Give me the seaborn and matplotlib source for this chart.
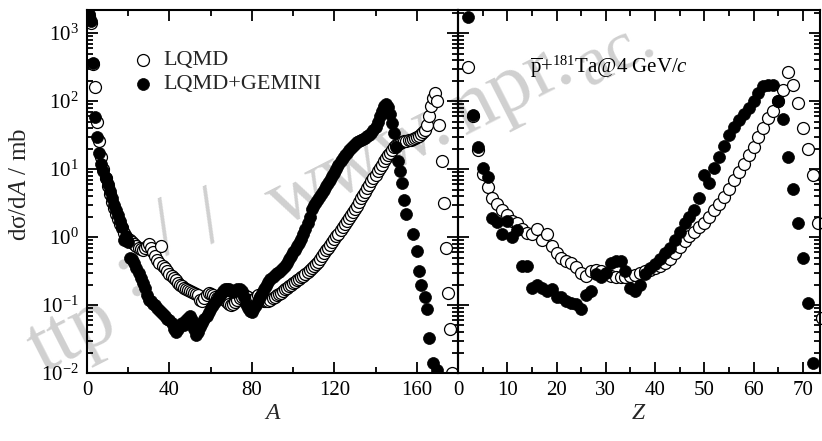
import numpy as np
import pandas as pd
import matplotlib
matplotlib.use("Agg")
import matplotlib.pyplot as plt
import seaborn as sns
from matplotlib.ticker import LogLocator, MultipleLocator, NullFormatter, LogFormatterMathtext

# ---------------- data ----------------
# Left panel: mass distribution, A = 1..177
A_lqmd = list(range(1, 178))
dA_lqmd = [
    1800, 1400, 350, 160, 50, 26, 15, 10, 7.5, 5.6,
    4.3, 3.3, 2.7, 2.2, 1.85, 1.55, 1.35, 1.15, 1.0, 0.95,
    0.92, 0.86, 0.8, 0.74, 0.7, 0.66, 0.65, 0.7, 0.75, 0.78,
    0.7, 0.6, 0.52, 0.46, 0.42, 0.75, 0.38, 0.35, 0.32, 0.29,
    0.27, 0.25, 0.23, 0.21, 0.2, 0.19, 0.18, 0.17, 0.165, 0.16,
    0.155, 0.15, 0.145, 0.14, 0.12, 0.115, 0.125, 0.14, 0.15, 0.145,
    0.14, 0.13, 0.125, 0.13, 0.14, 0.13, 0.12, 0.11, 0.105, 0.1,
    0.105, 0.11, 0.12, 0.125, 0.13, 0.14, 0.135, 0.13, 0.12, 0.115,
    0.12, 0.13, 0.14, 0.13, 0.12, 0.115, 0.115, 0.115, 0.12, 0.125,
    0.13, 0.14, 0.145, 0.15, 0.16, 0.17, 0.18, 0.19, 0.2, 0.21,
    0.22, 0.23, 0.24, 0.26, 0.27, 0.29, 0.31, 0.33, 0.35, 0.37,
    0.4, 0.43, 0.47, 0.52, 0.58, 0.64, 0.7, 0.77, 0.85, 0.93,
    1.02, 1.12, 1.25, 1.4, 1.55, 1.72, 1.9, 2.1, 2.35, 2.6,
    2.9, 3.3, 3.7, 4.1, 4.6, 5.2, 5.9, 6.6, 7.4, 8.3,
    9.3, 10.4, 11.6, 13, 14.5, 16, 17.5, 19, 21, 22.5,
    23.5, 24.5, 25, 25.5, 26, 26.5, 27, 28, 29, 30,
    31, 33, 35, 38, 45, 60, 85, 110, 130, 100,
    44, 13, 3.2, 0.7, 0.15, 0.045, 0.01,
]

A_gem = list(range(1, 151)) + [151, 152, 153, 154, 155, 158, 160, 161, 162, 164, 165, 166, 168, 170]
dA_gem = [
    1900, 1500, 360, 58, 30, 17, 12, 9.5, 7.5, 6.0,
    4.8, 3.8, 3.0, 2.5, 2.1, 1.7, 1.4, 0.9, 1.05, 0.85,
    0.5, 0.47, 0.42, 0.35, 0.3, 0.25, 0.21, 0.18, 0.14, 0.12,
    0.115, 0.105, 0.1, 0.09, 0.085, 0.08, 0.075, 0.068, 0.063, 0.06,
    0.055, 0.045, 0.04, 0.045, 0.05, 0.055, 0.05, 0.06, 0.065, 0.068,
    0.06, 0.045, 0.036, 0.04, 0.048, 0.055, 0.062, 0.07, 0.08, 0.09,
    0.1, 0.11, 0.12, 0.13, 0.145, 0.16, 0.17, 0.175, 0.17, 0.16,
    0.155, 0.16, 0.17, 0.175, 0.16, 0.13, 0.105, 0.09, 0.082, 0.08,
    0.09, 0.1, 0.115, 0.13, 0.15, 0.17, 0.19, 0.22, 0.24, 0.26,
    0.28, 0.3, 0.31, 0.33, 0.35, 0.38, 0.42, 0.47, 0.53, 0.6,
    0.65, 0.73, 0.82, 0.95, 1.1, 1.3, 1.6, 2.0, 2.6, 3.0,
    3.3, 3.6, 4.0, 4.5, 5.0, 5.6, 6.2, 7.0, 7.8, 8.8,
    10, 11.5, 13, 14.5, 16, 17.5, 19, 20.5, 22, 23.5,
    25, 26, 27, 28, 29, 30.5, 32, 34, 37, 42,
    50, 60, 72, 85, 90, 82, 65, 47, 34, 21,
    13, 9.5, 6.2, 3.5, 2.2, 1.1, 0.63, 0.32, 0.2, 0.13, 0.087, 0.033, 0.014, 0.011,
]

# Right panel: charge distribution
Z_lqmd = list(range(2, 75))
dZ_lqmd = [
    315, 60, 19, 8.5, 5.4, 3.8, 3.1, 2.5,
    2.1, 1.7, 1.6, 1.3, 1.15, 1.1, 1.33, 0.89, 1.1, 0.74,
    0.59, 0.5, 0.45, 0.41, 0.36, 0.3, 0.27, 0.32, 0.33, 0.32,
    0.29, 0.27, 0.26, 0.26, 0.26, 0.27, 0.28, 0.3, 0.32, 0.33,
    0.35, 0.38, 0.42, 0.48, 0.58, 0.72, 0.88, 1.05, 1.2, 1.4,
    1.6, 2.0, 2.5, 3.1, 3.9, 5.1, 6.8, 9, 12, 16,
    21, 30, 40, 56, 72, 100, 145, 265, 170, 93,
    40, 20, 8.1, 1.6, 0.065,
]

Z_gem = list(range(2, 73))
dZ_gem = [
    1700, 62, 21, 10.5, 7.6, 1.9, 1.65, 1.1,
    1.75, 1.0, 1.25, 0.38, 0.38, 0.18, 0.2, 0.18, 0.16, 0.17,
    0.13, 0.13, 0.115, 0.108, 0.104, 0.087, 0.14, 0.16, 0.29, 0.26,
    0.3, 0.41, 0.45, 0.45, 0.32, 0.18, 0.16, 0.2, 0.29, 0.35,
    0.4, 0.48, 0.58, 0.7, 0.9, 1.2, 1.6, 2.0, 2.5, 3.8,
    8.1, 6.3, 10.5, 15, 22, 32, 42, 52, 65, 80,
    100, 130, 165, 175, 170, 100, 55, 15, 5.1, 1.6,
    0.5, 0.107, 0.014,
]

labels = ["LQMD", "LQMD+GEMINI"]
annot = r"$\overline{\mathrm{p}}$+$^{181}$Ta@4 GeV/$c$"
# watermark pieces of "http://www.npr.ac.cn" that show in the picture
wm_text = ["ttp", ":", "/", "/", "www.", "npr.", "ac."]
wm_pos = [(72, 335), (129, 274), (167, 232), (212, 220), (360, 165), (512, 88), (616, 54)]
wm_size = [60, 60, 60, 60, 60, 60, 50]

# ---------------- style ----------------
sns.set_theme(style="ticks")
plt.rcParams["font.family"] = ["Liberation Serif", "DejaVu Serif"]
plt.rcParams["mathtext.fontset"] = "custom"
plt.rcParams["mathtext.rm"] = "Liberation Serif"
plt.rcParams["mathtext.it"] = "Liberation Serif:italic"
plt.rcParams["mathtext.bf"] = "Liberation Serif:bold"
plt.rcParams["axes.unicode_minus"] = True

W, H = 822, 441
fig = plt.figure(figsize=(W / 100, H / 100), dpi=100)
fig.patch.set_facecolor("white")
x0, xm, x1 = 87, 458, 820
ytop, ybot = 10, 373
axL = fig.add_axes([x0 / W, 1 - ybot / H, (xm - x0) / W, (ybot - ytop) / H])
axR = fig.add_axes([xm / W, 1 - ybot / H, (x1 - xm) / W, (ybot - ytop) / H])

# watermark (light grey, behind everything)
for t, (px, py), fs in zip(wm_text, wm_pos, wm_size):
    fig.text(px / W, 1 - py / H, t, rotation=27, fontsize=fs,
             color="#d0d0d0", zorder=-5, rotation_mode="anchor",
             ha="center", va="center")

dfL_o = pd.DataFrame({"A": A_lqmd, "v": dA_lqmd})
dfL_f = pd.DataFrame({"A": A_gem, "v": dA_gem})
dfR_o = pd.DataFrame({"Z": Z_lqmd, "v": dZ_lqmd})
dfR_f = pd.DataFrame({"Z": Z_gem, "v": dZ_gem})

ms = 74
sns.scatterplot(data=dfL_o, x="A", y="v", ax=axL, marker="o", s=ms,
                facecolor="white", edgecolor="black", linewidth=0.9, label=labels[0])
sns.scatterplot(data=dfL_f, x="A", y="v", ax=axL, marker="o", s=ms,
                color="black", edgecolor="black", linewidth=0.5, label=labels[1])
sns.scatterplot(data=dfR_o, x="Z", y="v", ax=axR, marker="o", s=ms,
                facecolor="white", edgecolor="black", linewidth=0.9, clip_on=False)
sns.scatterplot(data=dfR_f, x="Z", y="v", ax=axR, marker="o", s=ms,
                color="black", edgecolor="black", linewidth=0.5, clip_on=False)

for ax in (axL, axR):
    ax.set_facecolor("none")
    ax.set_yscale("log")
    ax.set_ylim(0.01, 2190)
    ax.yaxis.set_major_locator(LogLocator(base=10, numticks=12))
    ax.yaxis.set_minor_locator(LogLocator(base=10, subs=np.arange(2, 10), numticks=30))
    ax.yaxis.set_minor_formatter(NullFormatter())
    ax.tick_params(which="both", direction="in", top=True, right=True,
                   left=True, bottom=True, color="black", width=1.3)
    ax.tick_params(which="major", length=8, labelsize=15, pad=6, labelcolor="black")
    ax.tick_params(which="minor", length=4.5)
    for s in ax.spines.values():
        s.set_linewidth(1.5)
        s.set_color("black")

axL.set_xlim(0, 180)
axL.xaxis.set_major_locator(MultipleLocator(40))
axL.xaxis.set_minor_locator(MultipleLocator(20))
axL.yaxis.set_major_formatter(LogFormatterMathtext())
axL.set_xlabel("$A$", fontsize=17, labelpad=2)
axL.set_ylabel("dσ/d$A$ / mb", fontsize=18)
axL.yaxis.set_label_coords(-0.15, 0.52)

axR.set_xlim(0, 73.5)
axR.xaxis.set_major_locator(MultipleLocator(10))
axR.xaxis.set_minor_locator(MultipleLocator(5))
axR.tick_params(labelleft=False)
axR.set_xlabel("$Z$", fontsize=17, labelpad=2)
axR.set_ylabel("")

axL.legend(loc="upper left", bbox_to_anchor=(0.12, 0.89), frameon=False,
           fontsize=16, handlelength=1.0, handletextpad=0.45, borderpad=0,
           labelspacing=0.15, borderaxespad=0, markerscale=1.0)

axR.text(0.2, 0.843, annot, transform=axR.transAxes, fontsize=15,
         va="center", ha="left", color="black")

fig.savefig("out.png", dpi=100, facecolor="white")
